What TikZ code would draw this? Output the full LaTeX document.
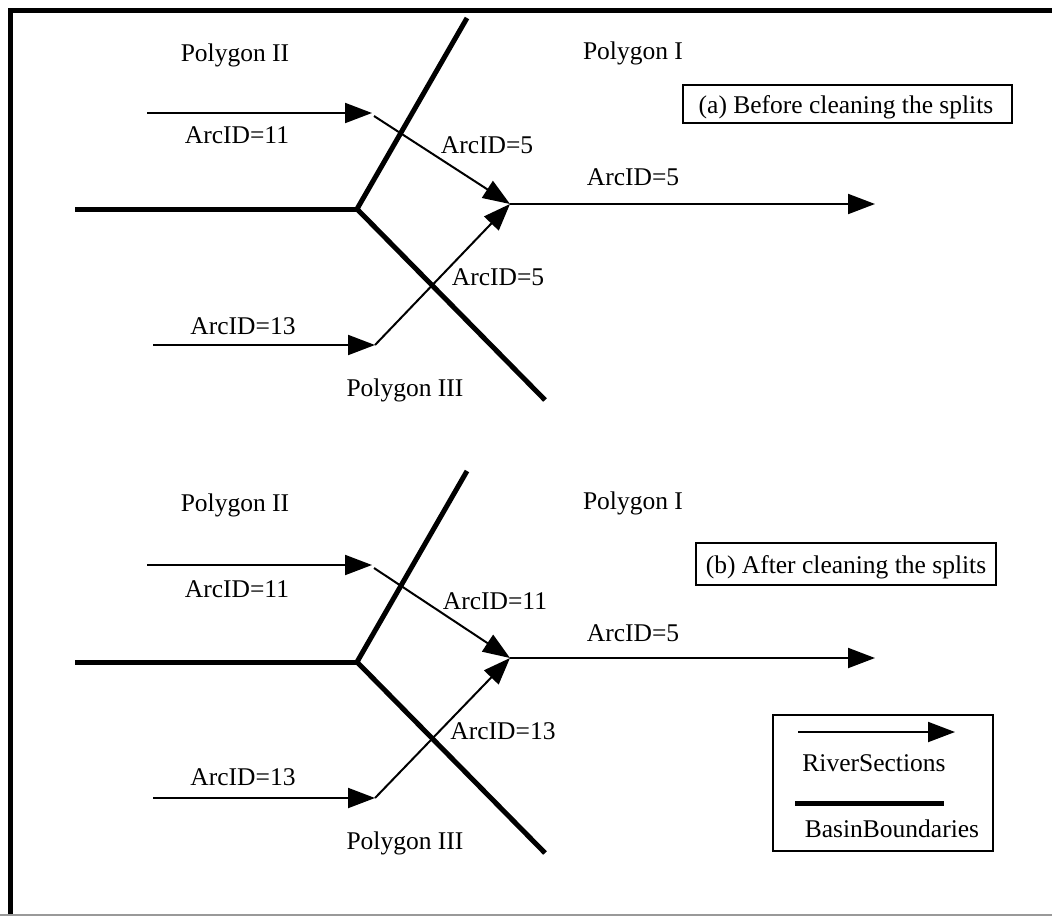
\documentclass[tikz,border=0pt]{standalone}
\usepackage{fontspec}
\setmainfont{Liberation Serif}
\usetikzlibrary{arrows.meta}
\tikzset{
  lbl/.style={anchor=base, inner sep=0pt, font=\fontsize{25.5}{30}\selectfont},
  river/.style={line width=2pt, -{Triangle[length=27pt,width=20pt]}},
  riverplain/.style={line width=2pt},
  basin/.style={line width=5pt},
  framebox/.style={draw, line width=2pt},
}
\begin{document}
\begin{tikzpicture}[x=1pt,y=-1pt]
\useasboundingbox (0,0) rectangle (1052,916);
% outer frame
\draw[line width=4.5pt] (1052,10.5) -- (10.5,10.5) -- (10.5,916);
\draw[line width=1.5pt, gray!80] (0,915) -- (1052,915);

% ================= panel (a)
\coordinate (a11s) at (147,113);
\coordinate (a11e) at (372,113);
\coordinate (a11d) at (374,116);
\coordinate (aJ) at (510,204);
\coordinate (aOut) at (875,204);
\coordinate (a13s) at (153,345);
\coordinate (a13e) at (375,345);
\coordinate (aBl) at (75,209);
\coordinate (aBj) at (357,209);
\coordinate (aBt) at (467,18);
\coordinate (aBb) at (545,400);

\draw[basin] (aBl) -- (aBj);
\draw[basin] (aBj) -- (aBt);
\draw[basin] (aBj) -- (aBb);
\draw[river] (a11s) -- (a11e);
\draw[river] (a11d) -- (aJ);
\draw[river] (aJ) -- (aOut);
\draw[river] (a13s) -- (a13e);
\draw[river] (a13e) -- (aJ);

\node[lbl] (aP2) at (235,61) {Polygon II};
\node[lbl] (aP1) at (633,59) {Polygon I};
\node[lbl] (aL11) at (237,143) {ArcID=11};
\node[lbl] (aL5a) at (487,153) {ArcID=5};
\node[lbl] (aL5b) at (633,185) {ArcID=5};
\node[lbl] (aL5c) at (498,285) {ArcID=5};
\node[lbl] (aL13) at (243,334) {ArcID=13};
\node[lbl] (aP3) at (405,396) {Polygon III};
\draw[framebox] (683,85) rectangle (1012,123);
\node[lbl] (aTitle) at (846,113) {(a) Before cleaning the splits};

% ================= panel (b)
\coordinate (b11s) at (147,565);
\coordinate (b11e) at (372,565);
\coordinate (b11d) at (374,568);
\coordinate (bJ) at (510,658);
\coordinate (bOut) at (875,658);
\coordinate (b13s) at (153,798);
\coordinate (b13e) at (375,798);
\coordinate (bBl) at (75,662);
\coordinate (bBj) at (357,662);
\coordinate (bBt) at (467,471);
\coordinate (bBb) at (545,853);

\draw[basin] (bBl) -- (bBj);
\draw[basin] (bBj) -- (bBt);
\draw[basin] (bBj) -- (bBb);
\draw[river] (b11s) -- (b11e);
\draw[river] (b11d) -- (bJ);
\draw[river] (bJ) -- (bOut);
\draw[river] (b13s) -- (b13e);
\draw[river] (b13e) -- (bJ);

\node[lbl] (bP2) at (235,511) {Polygon II};
\node[lbl] (bP1) at (633,509) {Polygon I};
\node[lbl] (bL11) at (237,597) {ArcID=11};
\node[lbl] (bL11d) at (495,609) {ArcID=11};
\node[lbl] (bL5) at (633,641) {ArcID=5};
\node[lbl] (bL13d) at (503,739) {ArcID=13};
\node[lbl] (bL13) at (243,785) {ArcID=13};
\node[lbl] (bP3) at (405,849) {Polygon III};
\draw[framebox] (696,543) rectangle (996,585);
\node[lbl] (bTitle) at (846,573) {(b) After cleaning the splits};

% ================= legend
\draw[framebox] (773,715) rectangle (993,851);
\coordinate (lgRs) at (798,732);
\coordinate (lgRe) at (955,732);
\coordinate (lgBs) at (795,803);
\coordinate (lgBe) at (944,803);
\draw[river] (lgRs) -- (lgRe);
\draw[basin] (lgBs) -- (lgBe);
\node[lbl] (lgR) at (874,771) {RiverSections};
\node[lbl] (lgB) at (892,837) {BasinBoundaries};
\end{tikzpicture}
\end{document}
